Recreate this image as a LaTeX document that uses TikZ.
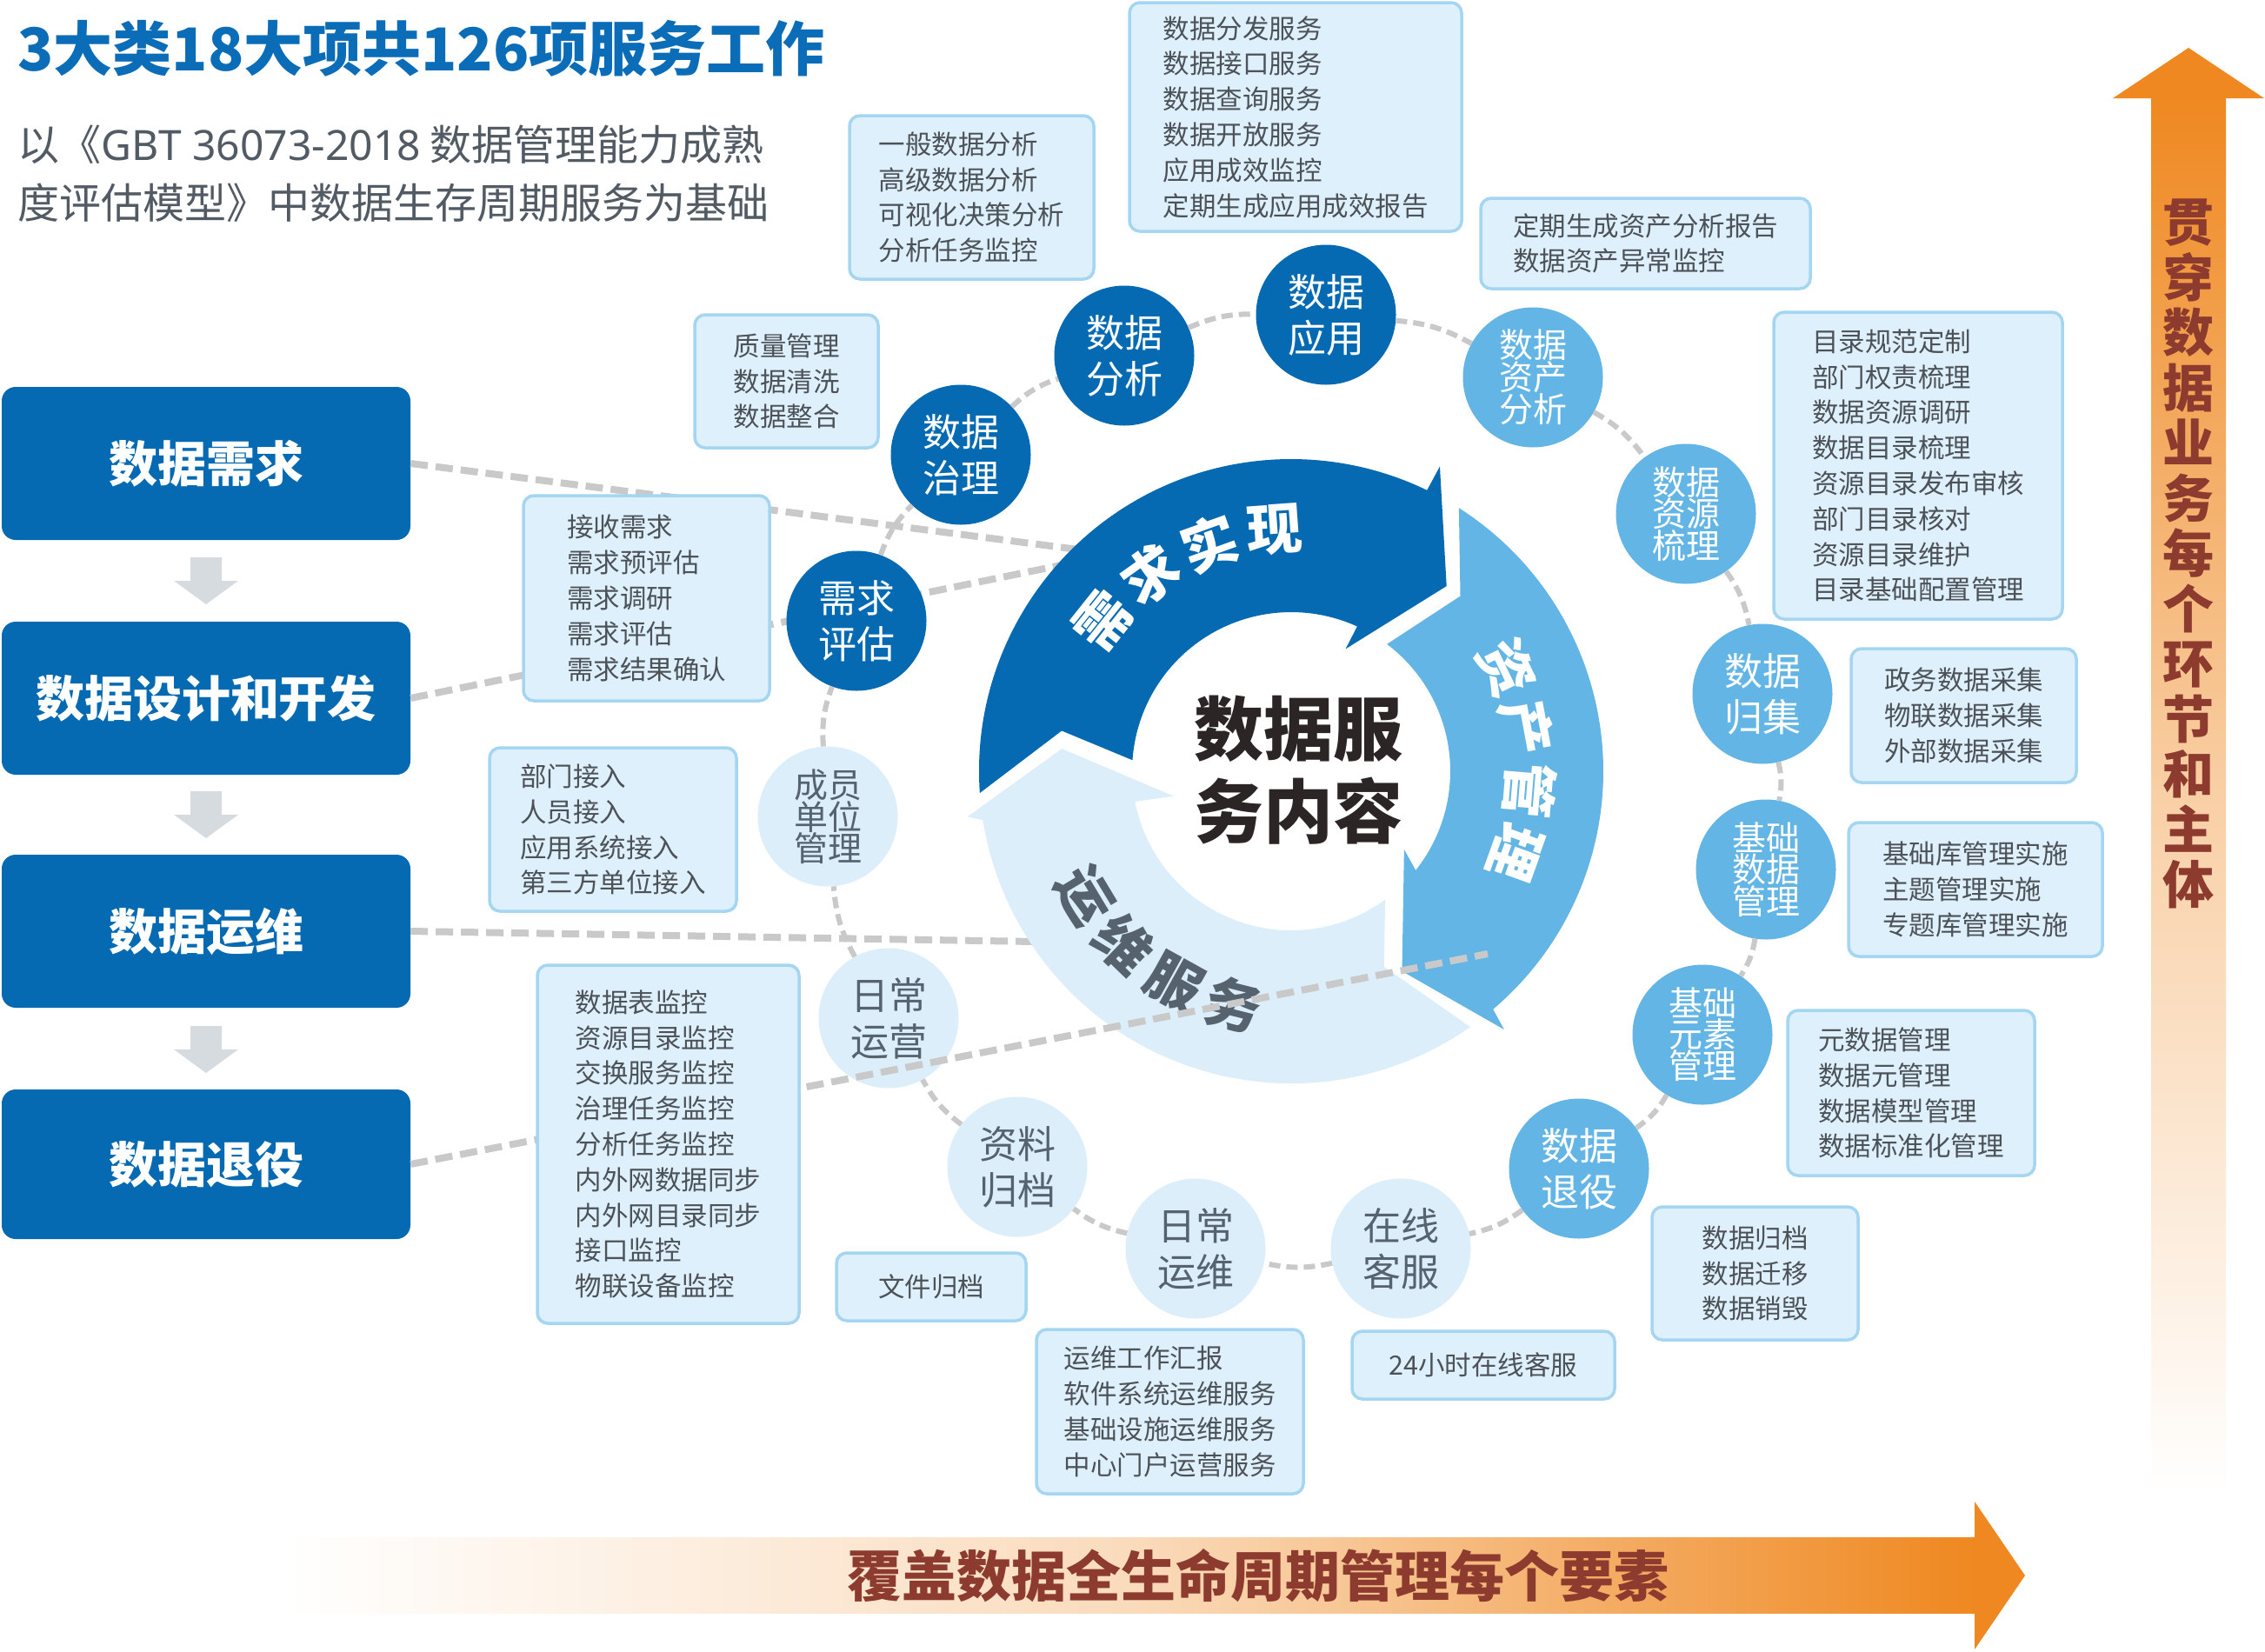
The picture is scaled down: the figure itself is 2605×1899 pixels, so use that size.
\documentclass[tikz,border=0pt]{standalone}
\usepackage{fontspec}
\setmainfont{Noto Sans CJK SC}
\newfontfamily\latinsans{Noto Sans}
\definecolor{dblue}{RGB}{6,106,179}
\definecolor{mblue}{RGB}{99,181,229}
\definecolor{pblue}{RGB}{219,238,250}
\definecolor{boxfill}{RGB}{222,240,251}
\definecolor{boxline}{RGB}{164,214,242}
\definecolor{boxtext}{RGB}{77,82,88}
\definecolor{pctext}{RGB}{86,99,110}
\definecolor{dashgray}{RGB}{201,201,201}
\definecolor{arrowgray}{RGB}{214,219,223}
\definecolor{orng}{RGB}{239,136,32}
\definecolor{brownred}{RGB}{142,59,47}
\definecolor{ctext}{RGB}{43,37,37}
\definecolor{subgray}{RGB}{82,90,100}
\definecolor{titleblue}{RGB}{11,108,183}
\begin{document}
\begin{tikzpicture}[x=1pt,y=1pt,
  lbox/.style={fill=dblue, rounded corners=16pt, text=white, font=\bfseries\fontsize{56}{60}\selectfont, minimum width=470pt, minimum height=176pt, inner sep=0pt},
  ibox/.style={fill=boxfill, draw=boxline, line width=3.5pt, rounded corners=12pt, font=\fontsize{30.5}{40.8}\selectfont, text=boxtext, align=left, inner sep=0pt},
  circ/.style={circle, minimum size=161pt, inner sep=0pt, align=center, font=\fontsize{44}{53}\selectfont},
  dcirc/.style={circ, fill=dblue, text=white},
  mcirc/.style={circ, fill=mblue, text=white},
  pcirc/.style={circ, fill=pblue, text=pctext},
  three/.style={font=\fontsize{39}{36}\selectfont},
  chain/.style={draw=dashgray, line width=6pt, dash pattern=on 13pt off 7pt},
  link/.style={draw=dashgray, line width=8pt, dash pattern=on 20pt off 9pt},
  ringtext/.style={font=\bfseries\fontsize{64}{64}\selectfont, inner sep=0pt}
]
\useasboundingbox (0,0) rectangle (2605,-1899);
\fill[white] (0,0) rectangle (2605,-1899);

% gradient arrows
\shade[top color=orng, bottom color=white, middle color=orng!40!white] (2474,-112) rectangle (2560,-1722);
\fill[orng] (2430,-113) -- (2517,-55) -- (2604,-113) -- cycle;
\node[font=\bfseries\fontsize{59}{63.5}\selectfont, text=brownred, align=center, inner sep=0pt] (vtext) at (2517,-637)
  {贯\\穿\\数\\据\\业\\务\\每\\个\\环\\节\\和\\主\\体};
\shade[left color=white, right color=orng, middle color=orng!30!white] (327,-1768) rectangle (2272,-1855);
\fill[orng] (2271,-1727) -- (2329,-1812) -- (2271,-1897) -- cycle;
\node[font=\bfseries\fontsize{63}{63}\selectfont, text=brownred, inner sep=0pt] (htext) at (1447,-1812) {覆盖数据全生命周期管理每个要素};

% left boxes
\node[lbox] (b1) at (237,-533) {数据需求};
\node[lbox] (b2) at (237,-803) {数据设计和开发};
\node[lbox] (b3) at (237,-1071) {数据运维};
\node[lbox, minimum height=172pt] (b4) at (237,-1339) {数据退役};
\foreach \y in {641,910,1180} {
  \fill[arrowgray] (219,-\y) -- ++(36,0) -- ++(0,-27) -- ++(19,0) -- ++(-37,-27) -- ++(-37,27) -- ++(19,0) -- cycle;
}

% links from left boxes (behind ring)
\coordinate (e1) at (1240,-632);
\coordinate (e2) at (1240,-646);
\coordinate (e3) at (1190,-1083);
\coordinate (e4) at (1711,-1097);
\draw[link] (b1.east) -- (e1);
\draw[link] (b2.east) -- (e2);
\draw[link] (b3.east) -- (e3);

% ring
\begin{scope}[shift={(1485,-887)}]
\fill[dblue] (184:359pt) arc[start angle=184, end angle=64.2, radius=359pt] -- (64:390pt) -- (50:278pt) -- (66:154pt) -- (65.5:183pt) arc[start angle=65.5, end angle=176, radius=183pt] -- (170:268pt) -- cycle;
\fill[mblue] (57.5:359pt) arc[start angle=57.5, end angle=-49.7, radius=359pt] -- (-50.5:385pt) -- (-61:263pt) -- (-34.7:158pt) -- (-38.5:183pt) arc[start angle=-38.5, end angle=53, radius=183pt] -- (46:280pt) -- cycle;
\fill[pblue] (-55:359pt) arc[start angle=-55, end angle=-171, radius=359pt] -- (-172:376pt) -- (-185.6:265pt) -- (-168:138pt) -- (-169:183pt) arc[start angle=-169, end angle=-53.8, radius=183pt] -- (-64.6:249pt) -- cycle;
\foreach \ch [count=\i] in {需,求,实,现} {
  \pgfmathsetmacro\a{141.4-15.8*(\i-1)}
  \node[ringtext, text=white, rotate=\a-90] (ra\i) at (\a:278pt) {\ch};
}
\foreach \ch [count=\i] in {资,产,管,理} {
  \pgfmathsetmacro\a{25.7-15.2*(\i-1)}
  \node[ringtext, text=white, rotate=\a-90] (rb\i) at (\a:275pt) {\ch};
}
\foreach \ch [count=\i] in {运,维,服,务} {
  \pgfmathsetmacro\a{211+15*(\i-1)}
  \node[ringtext, text=pctext, rotate=\a+90] (rc\i) at (\a:277pt) {\ch};
}
\end{scope}
\node[font=\bfseries\fontsize{80}{95}\selectfont, text=ctext, align=center, inner sep=0pt] (ctr) at (1493,-886) {数据服\\务内容};

% circles
\node[dcirc] (c1) at (985,-714) {需求\\评估};
\node[dcirc] (c2) at (1105,-523) {数据\\治理};
\node[dcirc] (c3) at (1293,-409) {数据\\分析};
\node[dcirc] (c4) at (1525,-362) {数据\\应用};
\node[mcirc, three] (c5) at (1763,-434) {数据\\资产\\分析};
\node[mcirc, three] (c6) at (1939,-591) {数据\\资源\\梳理};
\node[mcirc] (c7) at (2027,-798) {数据\\归集};
\node[mcirc, three] (c8) at (2031,-1000) {基础\\数据\\管理};
\node[mcirc, three] (c9) at (1958,-1190) {基础\\元素\\管理};
\node[mcirc] (c10) at (1816,-1344) {数据\\退役};
\node[pcirc] (c11) at (1611,-1436) {在线\\客服};
\node[pcirc] (c12) at (1375,-1436) {日常\\运维};
\node[pcirc] (c13) at (1170,-1342) {资料\\归档};
\node[pcirc] (c14) at (1022,-1171) {日常\\运营};
\node[pcirc, three] (c15) at (952,-939) {成员\\单位\\管理};
\foreach \p/\q in {c1/c2,c2/c3,c3/c4,c4/c5,c5/c6,c6/c7,c7/c8,c8/c9,c9/c10,c10/c11,c11/c12,c12/c13,c13/c14,c14/c15,c15/c1} {
  \draw[chain] (\p) to[bend left=12] (\q);
}

\draw[link] (b4.east) -- (e4);

% info boxes
\node[ibox, minimum width=382pt, minimum height=263pt] (x1) at (1490,-134.5) {数据分发服务\\数据接口服务\\数据查询服务\\数据开放服务\\应用成效监控\\定期生成应用成效报告};
\node[ibox, minimum width=281pt, minimum height=188pt] (x2) at (1117.5,-227) {一般数据分析\\高级数据分析\\可视化决策分析\\分析任务监控};
\node[ibox, minimum width=379pt, minimum height=104pt] (x3) at (1892.5,-280) {定期生成资产分析报告\\数据资产异常监控};
\node[ibox, minimum width=211pt, minimum height=153pt] (x4) at (904.5,-438.5) {质量管理\\数据清洗\\数据整合};
\node[ibox, minimum width=332pt, minimum height=353pt] (x5) at (2206,-535.5) {目录规范定制\\部门权责梳理\\数据资源调研\\数据目录梳理\\资源目录发布审核\\部门目录核对\\资源目录维护\\目录基础配置管理};
\node[ibox, minimum width=283pt, minimum height=236pt] (x6) at (743.5,-688) {接收需求\\需求预评估\\需求调研\\需求评估\\需求结果确认};
\node[ibox, minimum width=259pt, minimum height=154pt] (x7) at (2258.5,-823) {政务数据采集\\物联数据采集\\外部数据采集};
\node[ibox, minimum width=284pt, minimum height=188pt] (x8) at (705,-954) {部门接入\\人员接入\\应用系统接入\\第三方单位接入};
\node[ibox, minimum width=292pt, minimum height=154pt] (x9) at (2272,-1023) {基础库管理实施\\主题管理实施\\专题库管理实施};
\node[ibox, minimum width=301pt, minimum height=412pt] (x10) at (768.5,-1316) {数据表监控\\资源目录监控\\交换服务监控\\治理任务监控\\分析任务监控\\内外网数据同步\\内外网目录同步\\接口监控\\物联设备监控};
\node[ibox, minimum width=284pt, minimum height=190pt] (x11) at (2198,-1257) {元数据管理\\数据元管理\\数据模型管理\\数据标准化管理};
\node[ibox, minimum width=218pt, minimum height=78pt] (x12) at (1071,-1480) {文件归档};
\node[ibox, minimum width=237pt, minimum height=153pt] (x13) at (2018.5,-1464.5) {数据归档\\数据迁移\\数据销毁};
\node[ibox, minimum width=307pt, minimum height=189pt] (x14) at (1345.5,-1623.5) {运维工作汇报\\软件系统运维服务\\基础设施运维服务\\中心门户运营服务};
\node[ibox, minimum width=302pt, minimum height=78pt] (x15) at (1706,-1570) {24小时在线客服};

% title
\node[anchor=west, font=\bfseries\fontsize{68}{70}\selectfont, text=titleblue, inner sep=0pt] (title) at (20,-56) {3大类18大项共126项服务工作};
\node[anchor=west, align=left, font=\fontsize{48}{67}\selectfont, text=subgray, inner sep=0pt] (sub) at (20,-199.5) {以《{\latinsans GBT 36073-2018} 数据管理能力成熟\\度评估模型》中数据生存周期服务为基础};
\end{tikzpicture}
\end{document}
